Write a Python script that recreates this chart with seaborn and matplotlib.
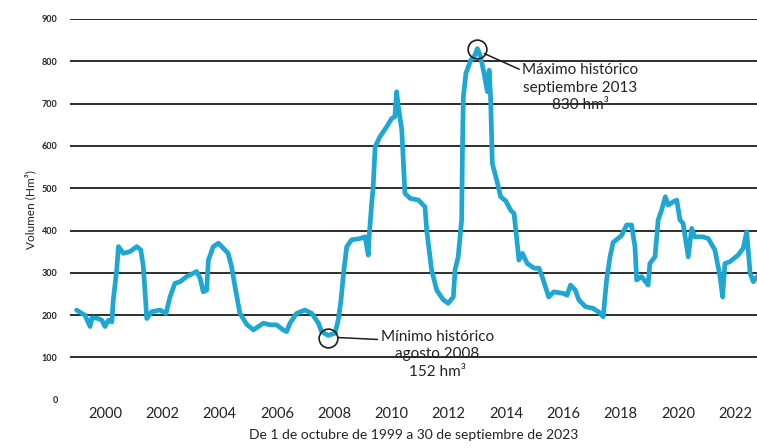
import numpy as np
import pandas as pd
import seaborn as sns
import matplotlib.pyplot as plt

# decimal year / volume (hm3)
years = [1999.91, 2000.09, 2000.20, 2000.38, 2000.44, 2000.61, 2000.79, 2000.90, 2001.02, 2001.14,
         2001.19, 2001.31, 2001.37, 2001.54, 2001.77, 2002.01, 2002.15, 2002.24, 2002.36, 2002.53,
         2002.82, 2003.03, 2003.17, 2003.34, 2003.52, 2003.75, 2004.10, 2004.22, 2004.33, 2004.45,
         2004.51, 2004.68, 2004.86, 2005.03, 2005.20, 2005.32, 2005.44, 2005.61, 2005.85, 2006.08,
         2006.43, 2006.66, 2006.89, 2007.12, 2007.24, 2007.36, 2007.59, 2007.88, 2008.12, 2008.35,
         2008.46, 2008.69, 2008.93, 2009.04, 2009.13, 2009.24, 2009.34, 2009.51, 2009.80, 2009.98,
         2010.09, 2010.12, 2010.21, 2010.26, 2010.33, 2010.50, 2010.73, 2010.91, 2011.02, 2011.08,
         2011.14, 2011.26, 2011.37, 2011.55, 2011.84, 2012.07, 2012.13, 2012.30, 2012.48, 2012.71,
         2012.88, 2013.06, 2013.12, 2013.23, 2013.35, 2013.38, 2013.41, 2013.50, 2013.67, 2013.79,
         2013.90, 2014.01, 2014.13, 2014.25, 2014.31, 2014.36, 2014.42, 2014.60, 2014.71, 2014.89,
         2015.06, 2015.18, 2015.30, 2015.35, 2015.47, 2015.64, 2015.88, 2016.05, 2016.16, 2016.39,
         2016.57, 2016.92, 2017.03, 2017.15, 2017.32, 2017.44, 2017.67, 2017.94, 2018.12, 2018.29,
         2018.41, 2018.53, 2018.64, 2018.93, 2019.11, 2019.28, 2019.40, 2019.46, 2019.63, 2019.86,
         2019.92, 2020.10, 2020.21, 2020.33, 2020.46, 2020.56, 2020.74, 2020.86, 2020.97, 2021.08,
         2021.26, 2021.38, 2021.49, 2021.78, 2021.96, 2022.19, 2022.37, 2022.46, 2022.54, 2022.71,
         2023.00, 2023.18, 2023.30, 2023.42, 2023.53, 2023.66]
volume = [212, 204, 200, 173, 193, 193, 188, 173, 188, 184,
          236, 307, 362, 346, 350, 362, 354, 314, 192, 208,
          212, 204, 243, 275, 279, 291, 303, 287, 255, 259,
          330, 362, 370, 358, 346, 314, 267, 204, 178, 165,
          181, 177, 177, 165, 161, 181, 204, 212, 204, 181,
          161, 152, 157, 188, 230, 307, 362, 378, 381, 385,
          342, 385, 464, 500, 598, 622, 645, 665, 669, 728,
          693, 638, 488, 476, 472, 456, 401, 307, 259, 236,
          228, 243, 307, 338, 425, 600, 716, 772, 803, 811,
          830, 811, 772, 728, 779, 716, 559, 512, 480, 470,
          448, 440, 362, 330, 346, 322, 311, 311, 291, 243,
          255, 251, 247, 271, 259, 236, 220, 216, 208, 196,
          283, 338, 372, 388, 413, 413, 362, 283, 291, 271,
          322, 338, 425, 448, 480, 460, 468, 472, 425, 417,
          338, 405, 385, 385, 381, 354, 291, 243, 322, 326,
          342, 358, 397, 299, 279, 291]

tick_years = list(range(2000, 2023, 2))
y_ticks = [0, 100, 200, 300, 400, 500, 600, 700, 800, 900]

df = pd.DataFrame({'year': years, 'volume': volume})

sns.set_style("white")
plt.rcParams['font.family'] = ['Lato', 'DejaVu Sans']

fig = plt.figure(figsize=(7.57, 4.48), dpi=100)
ax = fig.add_axes([0.0925, 0.1078, 0.9075, 0.8498])

for v in y_ticks[1:]:
    ax.axhline(v, color='#1e1e1e', lw=1.3, zorder=1)

sns.lineplot(data=df, x='year', y='volume', ax=ax, color='#1ea7d3', lw=3.4, zorder=3,
             solid_joinstyle='round', solid_capstyle='round')

ax.set_xlim(1999.68, 2023.66)
ax.set_ylim(0, 900)
sns.despine(ax=ax, left=True, bottom=True, top=True, right=True)

ax.set_xticks([y + 0.9 for y in tick_years])
ax.set_xticklabels([str(y) for y in tick_years], fontsize=10.5, color='#222222')
ax.set_yticks(y_ticks)
ax.set_yticklabels([str(v) for v in y_ticks], fontsize=6.5, color='#222222', fontweight='bold')
ax.tick_params(axis='y', length=0, pad=9)
ax.tick_params(axis='x', length=0, pad=5)

ax.set_xlabel('De 1 de octubre de 1999 a 30 de septiembre de 2023', fontsize=10, color='#222222', labelpad=6)
ax.set_ylabel('Volumen (Hm³)', fontsize=8.5, color='#222222', labelpad=4)

# max / min markers
imax = int(np.argmax(volume))
imin = int(np.argmin(volume))
ax.plot(years[imax], volume[imax], 'o', ms=13.5, mfc='none', mec='#1e1e1e', mew=1.2, zorder=4, clip_on=False)
ax.plot(years[imin], volume[imin] - 5, 'o', ms=13.5, mfc='none', mec='#1e1e1e', mew=1.2, zorder=4)

ax.annotate('Máximo histórico\nseptiembre 2013\n830 hm³', xy=(years[imax] + 0.25, volume[imax] - 12),
            xytext=(2017.5, 795), ha='center', va='top', fontsize=11, color='#222222', linespacing=1.3,
            arrowprops=dict(arrowstyle='-', color='#1e1e1e', lw=1.1, shrinkA=0, shrinkB=0,
                            relpos=(0.0, 0.85)))
ax.annotate('Mínimo histórico\nagosto 2008\n152 hm³', xy=(years[imin] + 0.33, volume[imin] - 5),
            xytext=(2012.5, 165), ha='center', va='top', fontsize=11, color='#222222', linespacing=1.3,
            arrowprops=dict(arrowstyle='-', color='#1e1e1e', lw=1.1, shrinkA=0, shrinkB=0,
                            relpos=(0.0, 0.8)))

fig.savefig('out.png', dpi=100)
